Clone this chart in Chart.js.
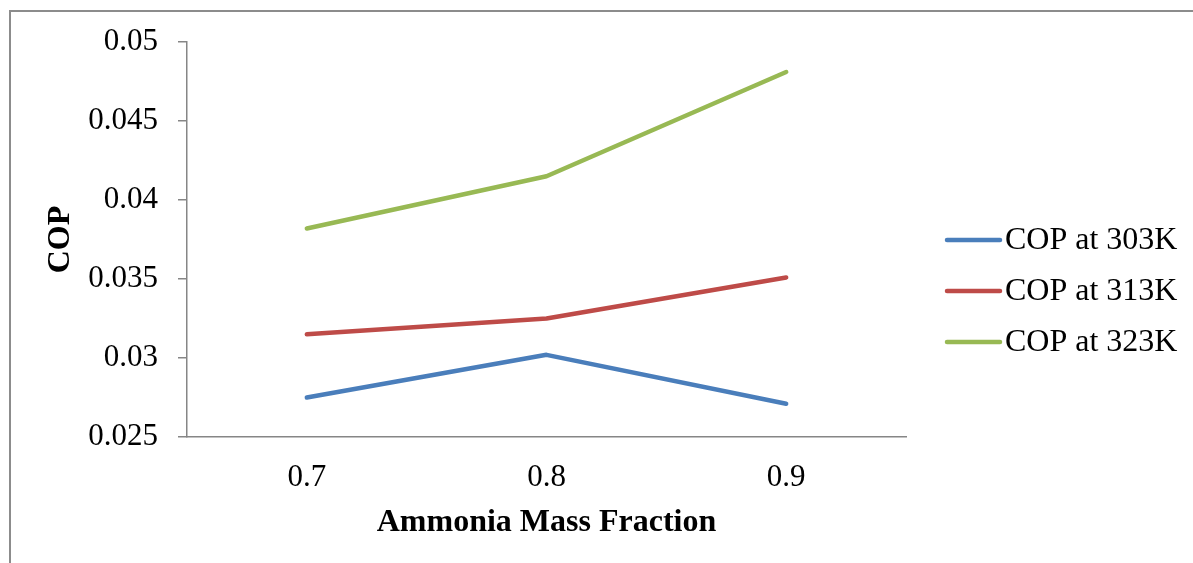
<!DOCTYPE html>
<html>
<head>
<meta charset="utf-8">
<title>COP vs Ammonia Mass Fraction</title>
<script src="https://cdn.jsdelivr.net/npm/chart.js@4/dist/chart.umd.min.js"></script>
<style>
  html, body { margin: 0; padding: 0; background: #fff; }
  canvas { display: block; }
</style>
</head>
<body>
<canvas id="grafico" width="1193" height="563"></canvas>
<script>
/* data */
var fractions = ['0.7', '0.8', '0.9'];
var cop303 = [0.0275, 0.0302, 0.0271];
var cop313 = [0.0315, 0.0325, 0.0351];
var cop323 = [0.0382, 0.0415, 0.0481];
var yTicks = [0.025, 0.03, 0.035, 0.04, 0.045, 0.05];

var serif = "'Liberation Serif', 'Times New Roman', Times, serif";
var axisGray = '#868686';

/* frame round the whole chart */
var frame = {
  id: 'frame',
  beforeDraw: function(chart) {
    var ctx = chart.ctx;
    ctx.save();
    ctx.fillStyle = '#fff';
    ctx.fillRect(0, 0, chart.width, chart.height);
    ctx.strokeStyle = '#8c8c8c';
    ctx.lineWidth = 2;
    ctx.strokeRect(10, 11, chart.width + 20, chart.height + 20);
    ctx.restore();
  }
};

/* legend on the right, line sample + label */
var sideLegend = {
  id: 'sideLegend',
  afterDraw: function(chart) {
    var ctx = chart.ctx;
    var sets = chart.data.datasets;
    ctx.save();
    ctx.font = '32px ' + serif;
    ctx.textBaseline = 'middle';
    ctx.textAlign = 'left';
    ctx.lineCap = 'round';
    for (var i = 0; i < sets.length; i++) {
      var y = 240 + i * 51;
      ctx.strokeStyle = sets[i].borderColor;
      ctx.lineWidth = 4.5;
      ctx.beginPath();
      ctx.moveTo(947, y);
      ctx.lineTo(1000, y);
      ctx.stroke();
      ctx.fillStyle = '#000';
      ctx.fillText(sets[i].label, 1005, y + 1);
    }
    ctx.restore();
  }
};

function serie(label, values, color) {
  return {
    label: label,
    data: values,
    borderColor: color,
    backgroundColor: color,
    borderWidth: 4.5,
    borderCapStyle: 'round',
    borderJoinStyle: 'round',
    pointRadius: 0,
    pointHoverRadius: 0,
    tension: 0,
    fill: false
  };
}

var ctx = document.getElementById('grafico');
var lineGraph = new Chart(ctx, {
  type: 'line',
  data: {
    labels: fractions,
    datasets: [
      serie('COP at 303K', cop303, '#4a7ebb'),
      serie('COP at 313K', cop313, '#be4b48'),
      serie('COP at 323K', cop323, '#98b954')
    ]
  },
  options: {
    responsive: false,
    animation: false,
    layout: { padding: { left: 0, top: 42, right: 287, bottom: 0 } },
    plugins: {
      legend: { display: false },
      tooltip: { enabled: false }
    },
    scales: {
      x: {
        offset: true,
        grid: { display: false, drawTicks: false },
        border: { display: true, color: axisGray, width: 1.5 },
        ticks: {
          color: '#000',
          font: { family: serif, size: 31 },
          padding: 22,
          maxRotation: 0
        },
        title: {
          display: true,
          text: 'Ammonia Mass Fraction',
          color: '#000',
          font: { family: serif, size: 32, weight: 'bold', lineHeight: 1 },
          padding: { top: 0, bottom: 24 }
        },
        afterFit: function(scale) { scale.height = 126; }
      },
      y: {
        min: 0.025,
        max: 0.05,
        grid: {
          drawOnChartArea: false,
          drawTicks: true,
          tickLength: 9,
          color: axisGray,
          lineWidth: 1.5
        },
        border: { display: true, color: axisGray, width: 1.5 },
        afterBuildTicks: function(scale) {
          scale.ticks = yTicks.map(function(v) { return { value: v }; });
        },
        ticks: {
          color: '#000',
          font: { family: serif, size: 31 },
          padding: 20,
          callback: function(value) { return String(value); }
        },
        title: {
          display: true,
          text: 'COP',
          color: '#000',
          font: { family: serif, size: 32, weight: 'bold', lineHeight: 1 },
          padding: { top: 45, bottom: 0 }
        },
        afterFit: function(scale) { scale.width = 187; }
      }
    }
  },
  plugins: [frame, sideLegend]
});
</script>
</body>
</html>
